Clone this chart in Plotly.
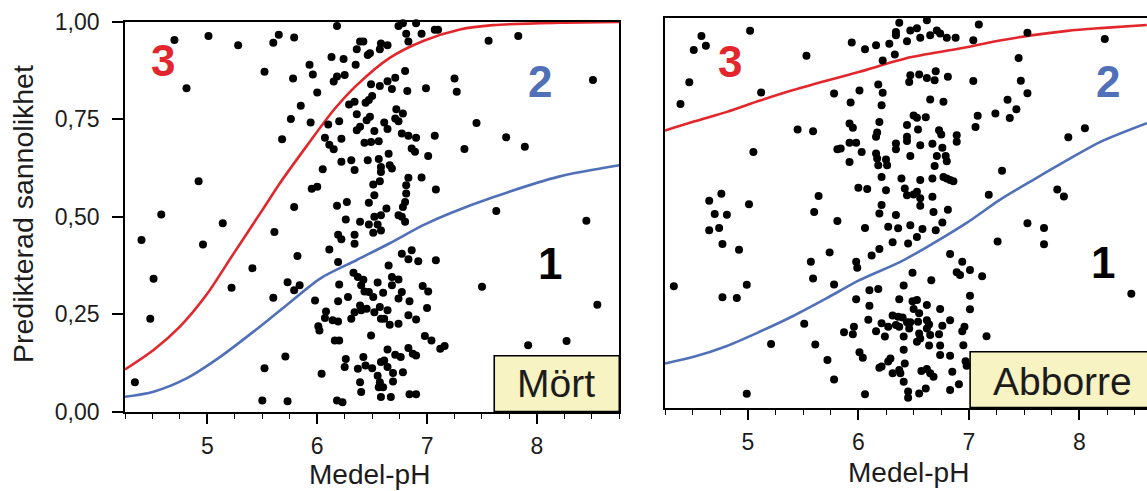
import plotly.graph_objects as go

# ---- Mört: observed lakes (mean pH, predicted probability) ----
mort_ph = [
    4.70, 5.01, 5.28, 5.65, 5.60, 4.81, 5.52, 4.92, 4.58, 5.68,
    4.40, 5.14, 4.96, 5.61, 4.51, 5.22, 5.41, 4.48, 5.60, 5.73, 4.34, 5.52, 5.71, 5.50, 5.73,
    6.18, 5.79, 6.74, 6.78, 6.90, 6.81, 6.83, 6.95, 7.07, 7.10, 6.39, 6.42, 6.36, 6.58, 6.64,
    6.57, 6.48, 6.46, 6.13, 6.24, 5.93, 5.96, 6.35, 5.78, 6.18, 6.25, 6.15, 6.80, 6.49, 6.57,
    6.64, 6.71, 6.68, 6.82, 6.99, 6.00, 5.85, 6.50, 6.47, 6.44, 6.29, 6.34, 6.72, 6.78, 6.36,
    6.48, 6.45, 5.76, 5.94, 6.10, 6.20, 6.61, 6.64, 6.71, 6.74, 6.77, 6.83, 6.90, 6.36, 6.39,
    6.52, 6.07, 6.22, 6.43, 6.49, 6.56, 6.11, 6.15, 6.86, 6.89, 7.01, 7.07, 6.65, 6.22, 6.31,
    6.34, 6.46, 6.56, 6.58, 6.66, 6.68, 6.58, 6.05, 5.95, 6.00, 6.51, 6.57, 6.83, 6.81, 6.95,
    7.08, 6.52, 6.81, 6.80, 6.47, 5.79, 6.18, 6.27, 6.78, 6.63, 6.26, 6.39, 6.47, 6.52, 6.58,
    6.74, 6.77, 6.80, 6.55, 6.51, 6.58, 6.19, 6.22, 6.34, 6.34, 6.11, 6.77, 6.86, 6.83, 6.92,
    7.08, 5.82, 6.19, 6.65, 6.33, 6.37, 6.42, 6.40, 6.43, 6.47, 6.55, 6.68, 6.74, 6.68, 6.60,
    6.51, 6.20, 5.84, 5.79, 5.98, 6.19, 6.28, 6.77, 6.74, 6.84, 6.96, 7.01, 7.00, 6.39, 6.40,
    6.45, 6.34, 6.31, 6.52, 6.57, 6.64, 6.61, 6.58, 6.66, 6.08, 6.07, 6.14, 6.19, 6.01, 6.02,
    6.74, 6.83, 6.90, 6.49, 6.16, 6.20, 6.98, 7.04, 7.12, 7.16, 6.64, 6.83, 6.90, 6.87, 6.71,
    6.76, 6.26, 6.25, 6.42, 6.44, 6.50, 6.58, 6.61, 6.64, 6.69, 6.78, 6.04, 6.37, 6.55, 6.39,
    6.57, 6.69, 6.60, 6.56, 6.40, 6.58, 6.67, 6.84, 6.90, 6.18, 6.23,
    7.56, 7.83, 7.25, 7.27, 7.45, 7.72, 7.89, 7.34, 8.51, 7.63,
    8.45, 7.50, 8.55, 7.92, 8.27,
]
mort_prob = [
    0.954, 0.964, 0.940, 0.967, 0.947, 0.830, 0.872, 0.591, 0.506, 0.699,
    0.440, 0.483, 0.429, 0.461, 0.341, 0.318, 0.368, 0.238, 0.292, 0.332, 0.075, 0.111, 0.141, 0.028, 0.026,
    0.990, 0.960, 0.990, 0.997, 0.997, 0.970, 0.950, 0.970, 0.980, 0.980, 0.950, 0.950, 0.930, 0.945, 0.940,
    0.930, 0.920, 0.915, 0.910, 0.905, 0.890, 0.865, 0.890, 0.855, 0.860, 0.864, 0.847, 0.874, 0.840, 0.836,
    0.848, 0.857, 0.828, 0.823, 0.830, 0.819, 0.785, 0.810, 0.800, 0.793, 0.788, 0.795, 0.776, 0.765, 0.763,
    0.757, 0.748, 0.751, 0.742, 0.737, 0.745, 0.742, 0.725, 0.752, 0.745, 0.714, 0.708, 0.703, 0.722, 0.731,
    0.720, 0.703, 0.700, 0.690, 0.692, 0.694, 0.685, 0.673, 0.675, 0.667, 0.656, 0.708, 0.662, 0.641, 0.645,
    0.620, 0.645, 0.648, 0.628, 0.632, 0.624, 0.615, 0.622, 0.572, 0.577, 0.583, 0.591, 0.600, 0.581, 0.601,
    0.570, 0.555, 0.560, 0.538, 0.536, 0.525, 0.528, 0.538, 0.525, 0.521, 0.493, 0.487, 0.480, 0.500, 0.504,
    0.504, 0.500, 0.487, 0.480, 0.459, 0.465, 0.454, 0.442, 0.454, 0.431, 0.416, 0.405, 0.414, 0.391, 0.386,
    0.388, 0.399, 0.384, 0.375, 0.356, 0.345, 0.338, 0.324, 0.308, 0.307, 0.331, 0.345, 0.339, 0.324, 0.305,
    0.294, 0.326, 0.324, 0.311, 0.285, 0.283, 0.294, 0.307, 0.290, 0.283, 0.322, 0.308, 0.266, 0.272, 0.260,
    0.264, 0.255, 0.238, 0.255, 0.268, 0.260, 0.238, 0.238, 0.223, 0.257, 0.240, 0.234, 0.231, 0.219, 0.208,
    0.225, 0.247, 0.236, 0.195, 0.182, 0.182, 0.194, 0.182, 0.161, 0.168, 0.159, 0.163, 0.144, 0.148, 0.146,
    0.140, 0.135, 0.114, 0.140, 0.118, 0.111, 0.127, 0.131, 0.114, 0.099, 0.101, 0.097, 0.110, 0.092, 0.075,
    0.075, 0.077, 0.062, 0.062, 0.050, 0.037, 0.037, 0.044, 0.044, 0.028, 0.024,
    0.952, 0.964, 0.855, 0.821, 0.741, 0.704, 0.680, 0.674, 0.851, 0.515,
    0.490, 0.320, 0.274, 0.170, 0.181,
]

# ---- Abborre: observed lakes ----
abborre_ph = [
    4.58, 4.51, 4.62, 5.02, 4.47, 4.39, 5.12, 5.53, 5.45, 5.05, 4.65, 4.76, 4.70, 4.81, 5.01,
    4.65, 4.74, 4.77, 4.92, 4.33, 4.77, 4.90, 4.99, 5.21, 4.99, 5.51,
    6.37, 6.62, 6.34, 6.34, 6.47, 6.53, 6.56, 6.65, 6.71, 6.74, 6.80, 6.88, 6.44, 7.04, 7.09,
    5.94, 6.06, 6.16, 6.28, 6.33, 6.22, 6.47, 6.46, 6.55, 6.62, 6.70, 6.69, 6.81, 7.04, 6.18,
    6.01, 5.78, 6.22, 5.93, 6.21, 6.65, 6.77, 6.50, 6.53, 6.61, 6.19, 5.92, 5.95, 5.59, 6.44,
    6.54, 6.73, 6.75, 6.89, 7.06, 7.08, 6.17, 6.16, 6.44, 6.44, 6.89, 5.92, 5.98, 5.81, 5.84,
    6.34, 6.34, 6.56, 6.67, 6.76, 6.03, 6.16, 6.17, 6.25, 6.18, 6.26, 6.47, 6.71, 6.79, 6.80,
    6.69, 5.92, 6.21, 6.39, 6.56, 6.67, 6.77, 6.80, 6.83, 6.86, 6.00, 6.08, 6.25, 6.42, 6.44,
    6.50, 6.53, 6.56, 6.56, 6.67, 5.64, 5.60, 6.21, 6.19, 6.34, 6.68, 6.81, 5.81, 6.06, 6.27,
    6.36, 6.47, 6.58, 6.70, 6.76, 6.53, 6.31, 6.45, 6.19, 6.12, 5.74, 5.57, 5.98, 5.99, 6.83,
    6.94, 7.01, 6.89, 6.92, 6.49, 6.66, 5.59, 5.78, 6.10, 6.18, 6.41, 7.01, 5.98, 6.37, 6.49,
    6.53, 6.10, 6.50, 6.55, 6.74, 6.62, 7.01, 6.31, 6.36, 6.40, 6.44, 6.47, 6.09, 6.21, 6.27,
    6.34, 6.37, 6.54, 6.62, 6.64, 6.83, 5.96, 5.87, 5.95, 6.16, 6.24, 6.41, 6.46, 6.55, 6.62,
    6.56, 6.53, 6.65, 6.73, 6.76, 6.94, 6.96, 5.61, 6.64, 6.74, 6.95, 6.01, 6.04, 6.41, 6.29,
    6.27, 5.72, 6.19, 6.21, 6.31, 6.37, 6.38, 6.42, 6.57, 6.62, 6.65, 6.68, 6.74, 6.83, 6.85,
    6.97, 6.98, 5.78, 6.41, 6.06, 6.45, 6.45, 6.55, 6.61, 6.83, 6.91,
    7.53, 8.23, 7.45, 7.47, 7.53, 7.35, 7.43, 7.37, 7.24, 7.90, 8.05, 7.30, 7.18, 7.80, 7.86,
    7.53, 7.68, 7.68, 7.26, 7.12, 8.47, 7.16,
]
abborre_prob = [
    0.954, 0.918, 0.929, 0.967, 0.835, 0.779, 0.809, 0.903, 0.714, 0.656, 0.531, 0.549, 0.497, 0.495, 0.522,
    0.455, 0.461, 0.420, 0.405, 0.311, 0.283, 0.281, 0.315, 0.163, 0.035, 0.215,
    0.988, 0.994, 0.964, 0.956, 0.968, 0.974, 0.949, 0.956, 0.968, 0.960, 0.949, 0.949, 0.940, 0.943, 0.983,
    0.937, 0.920, 0.930, 0.934, 0.906, 0.891, 0.853, 0.836, 0.855, 0.846, 0.863, 0.840, 0.849, 0.838, 0.829,
    0.814, 0.806, 0.808, 0.783, 0.776, 0.791, 0.785, 0.750, 0.744, 0.745, 0.733, 0.729, 0.718, 0.709, 0.725,
    0.714, 0.712, 0.701, 0.699, 0.720, 0.749, 0.706, 0.695, 0.695, 0.684, 0.682, 0.680, 0.680, 0.663, 0.665,
    0.678, 0.663, 0.673, 0.677, 0.667, 0.656, 0.652, 0.639, 0.637, 0.622, 0.622, 0.646, 0.646, 0.646, 0.632,
    0.620, 0.630, 0.592, 0.588, 0.584, 0.588, 0.592, 0.588, 0.584, 0.581, 0.564, 0.561, 0.558, 0.562, 0.545,
    0.547, 0.554, 0.537, 0.518, 0.541, 0.543, 0.502, 0.520, 0.498, 0.494, 0.502, 0.508, 0.479, 0.461, 0.464,
    0.460, 0.468, 0.458, 0.455, 0.475, 0.438, 0.424, 0.421, 0.407, 0.390, 0.398, 0.374, 0.374, 0.359, 0.394,
    0.374, 0.353, 0.347, 0.340, 0.346, 0.327, 0.331, 0.316, 0.301, 0.304, 0.313, 0.287, 0.278, 0.278, 0.273,
    0.276, 0.261, 0.253, 0.242, 0.253, 0.263, 0.252, 0.236, 0.233, 0.231, 0.219, 0.219, 0.225, 0.216, 0.207,
    0.212, 0.207, 0.220, 0.224, 0.213, 0.224, 0.207, 0.193, 0.188, 0.196, 0.182, 0.182, 0.203, 0.190, 0.203,
    0.177, 0.169, 0.186, 0.188, 0.210, 0.196, 0.207, 0.162, 0.159, 0.159, 0.160, 0.142, 0.128, 0.148, 0.126,
    0.118, 0.122, 0.102, 0.105, 0.088, 0.096, 0.088, 0.113, 0.094, 0.099, 0.088, 0.079, 0.135, 0.133, 0.092,
    0.119, 0.107, 0.072, 0.066, 0.034, 0.041, 0.025, 0.036, 0.049, 0.045, 0.060,
    0.962, 0.946, 0.897, 0.839, 0.807, 0.790, 0.766, 0.743, 0.755, 0.694, 0.717, 0.608, 0.546, 0.560, 0.542,
    0.473, 0.461, 0.419, 0.426, 0.337, 0.292, 0.183,
]

# ---- Fitted model curves: P(class 3) and P(class >= 2) ----
mort_curve_ph3 = [4.25, 4.51, 4.75, 4.99, 5.24, 5.50, 5.66, 5.90, 6.15, 6.36, 6.66, 6.97, 7.30, 7.60, 8.21, 8.75]
mort_curve_p3 = [0.108, 0.158, 0.218, 0.299, 0.406, 0.517, 0.586, 0.680, 0.774, 0.838, 0.908, 0.952, 0.981, 0.992, 0.998, 1.0]
mort_curve_ph2 = [4.25, 4.51, 4.81, 5.12, 5.42, 5.72, 6.03, 6.36, 6.66, 6.97, 7.21, 7.60, 8.20, 8.75]
mort_curve_p2 = [0.038, 0.051, 0.085, 0.141, 0.205, 0.273, 0.342, 0.389, 0.432, 0.479, 0.509, 0.550, 0.603, 0.632]

abborre_curve_ph = [4.25, 4.51, 4.81, 5.11, 5.41, 5.71, 6.01, 6.47, 6.98, 7.28, 7.58, 7.89, 8.19, 8.61]
abborre_curve_p3 = [0.711, 0.734, 0.759, 0.788, 0.815, 0.839, 0.862, 0.899, 0.925, 0.942, 0.956, 0.967, 0.974, 0.982]
abborre_curve_ph2 = [4.25, 4.51, 4.81, 5.11, 5.41, 5.71, 6.01, 6.38, 6.68, 6.98, 7.28, 7.58, 7.89, 8.19, 8.61]
abborre_curve_p2 = [0.113, 0.130, 0.158, 0.195, 0.235, 0.280, 0.327, 0.374, 0.422, 0.474, 0.533, 0.584, 0.635, 0.682, 0.730]

y_ticks = [0, 0.25, 0.5, 0.75, 1.0]
x_ticks = [5, 6, 7, 8]

RED = "#e3262b"
BLUE = "#5070b8"
INK = "#1c1c1c"
BOX_FILL = "#f8f3c3"
FONT = "Liberation Sans, Arial, Helvetica, sans-serif"

fig = go.Figure()


def add_panel(xa, ya, ph, prob, ph3, p3, ph2, p2):
    fig.add_trace(go.Scatter(x=ph3, y=p3, mode="lines", xaxis=xa, yaxis=ya,
                             line=dict(color=RED, width=2.6, shape="spline", smoothing=0.8),
                             hoverinfo="skip"))
    fig.add_trace(go.Scatter(x=ph2, y=p2, mode="lines", xaxis=xa, yaxis=ya,
                             line=dict(color=BLUE, width=2.6, shape="spline", smoothing=0.8),
                             hoverinfo="skip"))
    fig.add_trace(go.Scatter(x=ph, y=prob, mode="markers", xaxis=xa, yaxis=ya,
                             marker=dict(color="black", size=8, line=dict(width=0)),
                             cliponaxis=False))


add_panel("x", "y", mort_ph, mort_prob, mort_curve_ph3, mort_curve_p3, mort_curve_ph2, mort_curve_p2)
add_panel("x2", "y2", abborre_ph, abborre_prob, abborre_curve_ph, abborre_curve_p3,
          abborre_curve_ph2, abborre_curve_p2)

W, H = 1147, 491

xaxis_common = dict(
    tickmode="array", tickvals=x_ticks, ticks="outside", ticklen=11, tickwidth=1.5,
    tickcolor="black", showline=True, linecolor="black", linewidth=1.6, mirror=True,
    showgrid=False, zeroline=False, tickfont=dict(family=FONT, size=23, color=INK),
    ticklabelstandoff=2,
    minor=dict(tickmode="linear", tick0=4.25, dtick=0.25, ticks="outside", ticklen=6,
               tickwidth=1.3, tickcolor="black", showgrid=False),
)

fig.update_layout(
    width=W, height=H,
    margin=dict(l=0, r=0, t=0, b=0, autoexpand=False),
    paper_bgcolor="white", plot_bgcolor="white",
    showlegend=False, separators=",.",
    font=dict(family=FONT, color=INK),
    xaxis=dict(domain=[125 / W, 619.3 / W], range=[4.25, 8.75], anchor="y", **xaxis_common),
    yaxis=dict(domain=[1 - 411.5 / H, 1 - 22 / H], range=[0, 1], anchor="x",
               tickmode="array", tickvals=y_ticks, tickformat=".2f",
               ticks="outside", ticklen=11, tickwidth=1.5, tickcolor="black",
               showline=True, linecolor="black", linewidth=1.6, mirror=True,
               showgrid=False, zeroline=False, ticklabelstandoff=8,
               tickfont=dict(family=FONT, size=23, color=INK)),
    xaxis2=dict(domain=[665 / W, 1.0], range=[4.25, 8.612], anchor="y2", **xaxis_common),
    yaxis2=dict(domain=[1 - 407.5 / H, 1 - 18 / H], range=[0, 1], anchor="x2",
                showticklabels=False, ticks="", showline=True, linecolor="black",
                linewidth=1.6, mirror=False, showgrid=False, zeroline=False),
)

# species label boxes
fig.add_shape(type="rect", xref="x domain", yref="y domain", x0=0.747, x1=1.0, y0=0, y1=0.143,
              fillcolor=BOX_FILL, line=dict(color="black", width=1.6), layer="below")
fig.add_shape(type="rect", xref="x2 domain", yref="y2 domain", x0=0.633, x1=1.1, y0=0, y1=0.143,
              fillcolor=BOX_FILL, line=dict(color="black", width=1.6), layer="below")

notes = [
    ("x domain", "y domain", 0.872, 0.072, "Mört", 39, INK, False),
    ("x2 domain", "y2 domain", 0.825, 0.066, "Abborre", 39, INK, False),
    ("x domain", "y domain", 0.076, 0.900, "3", 44, RED, True),
    ("x domain", "y domain", 0.840, 0.847, "2", 44, BLUE, True),
    ("x domain", "y domain", 0.860, 0.381, "1", 44, "black", True),
    ("x2 domain", "y2 domain", 0.135, 0.888, "3", 44, RED, True),
    ("x2 domain", "y2 domain", 0.919, 0.836, "2", 44, BLUE, True),
    ("x2 domain", "y2 domain", 0.909, 0.371, "1", 44, "black", True),
]
for xr, yr, xv, yv, txt, size, col, bold in notes:
    fig.add_annotation(xref=xr, yref=yr, x=xv, y=yv, text=f"<b>{txt}</b>" if bold else txt,
                       showarrow=False, xanchor="center", yanchor="middle",
                       font=dict(family=FONT, size=size, color=col))

# axis titles
fig.add_annotation(xref="paper", yref="paper", x=369 / W, y=1 - 474 / H, text="Medel-pH",
                   showarrow=False, xanchor="center", yanchor="middle",
                   font=dict(family=FONT, size=28, color=INK))
fig.add_annotation(xref="paper", yref="paper", x=908 / W, y=1 - 472 / H, text="Medel-pH",
                   showarrow=False, xanchor="center", yanchor="middle",
                   font=dict(family=FONT, size=28, color=INK))
fig.add_annotation(xref="paper", yref="paper", x=23 / W, y=1 - 214 / H,
                   text="Predikterad sannolikhet", textangle=-90,
                   showarrow=False, xanchor="center", yanchor="middle",
                   font=dict(family=FONT, size=28.5, color=INK))

fig.write_html("out.html")
